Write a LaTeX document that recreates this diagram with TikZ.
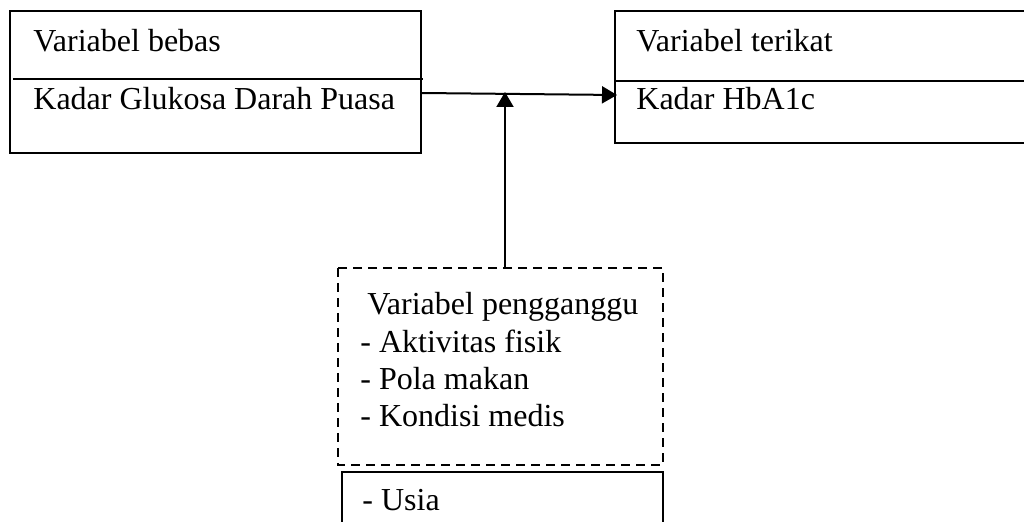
\documentclass[tikz,border=0pt]{standalone}
\usepackage{fontspec}
\setmainfont{Liberation Serif}
\usetikzlibrary{arrows.meta}
\begin{document}
\begin{tikzpicture}[x=0.5pt,y=-0.5pt,
  box/.style={draw=black,line width=0.8pt},
  divider/.style={draw=black,line width=1.1pt},
  dbox/.style={draw=black,line width=1.4pt,dash pattern=on 4.5pt off 3pt},
  lbl/.style={anchor=base west,inner sep=0pt,font=\fontsize{16pt}{19pt}\selectfont},
  conn/.style={draw=black,line width=1pt,-{Triangle[length=7.5pt,width=8.5pt]}}]
\useasboundingbox (0,0) rectangle (1024,522);
% left box
\draw[box] (10,11) rectangle (421,153);
\draw[divider] (13,79) -- (423,79);
\node[lbl] (vb) at (33,52) {Variabel bebas};
\node[lbl] (kg) at (33,110) {Kadar Glukosa Darah Puasa};
% right box
\draw[box] (615,11) rectangle (1040,143);
\draw[divider] (615,81) -- (1040,81);
\node[lbl] (vt) at (636,52) {Variabel terikat};
\node[lbl] (kh) at (636,110) {Kadar HbA1c};
% dashed box
\draw[dbox] (338,268) rectangle (663,465);
\node[lbl] (vp) at (367,315) {Variabel pengganggu};
\node[lbl] (a1) at (360,353) {- Aktivitas fisik};
\node[lbl] (a2) at (360,390) {- Pola makan};
\node[lbl] (a3) at (360,427) {- Kondisi medis};
% bottom box
\draw[box] (342,472) rectangle (663,540);
\node[lbl] (us) at (362,511) {- Usia};
% connectors
\coordinate (src) at (421,93);
\coordinate (dst) at (617,95);
\coordinate (ctop) at (505,268);
\coordinate (cend) at (505,92);
\draw[conn] (src) -- (dst);
\draw[conn] (ctop) -- (cend);
\end{tikzpicture}
\end{document}
